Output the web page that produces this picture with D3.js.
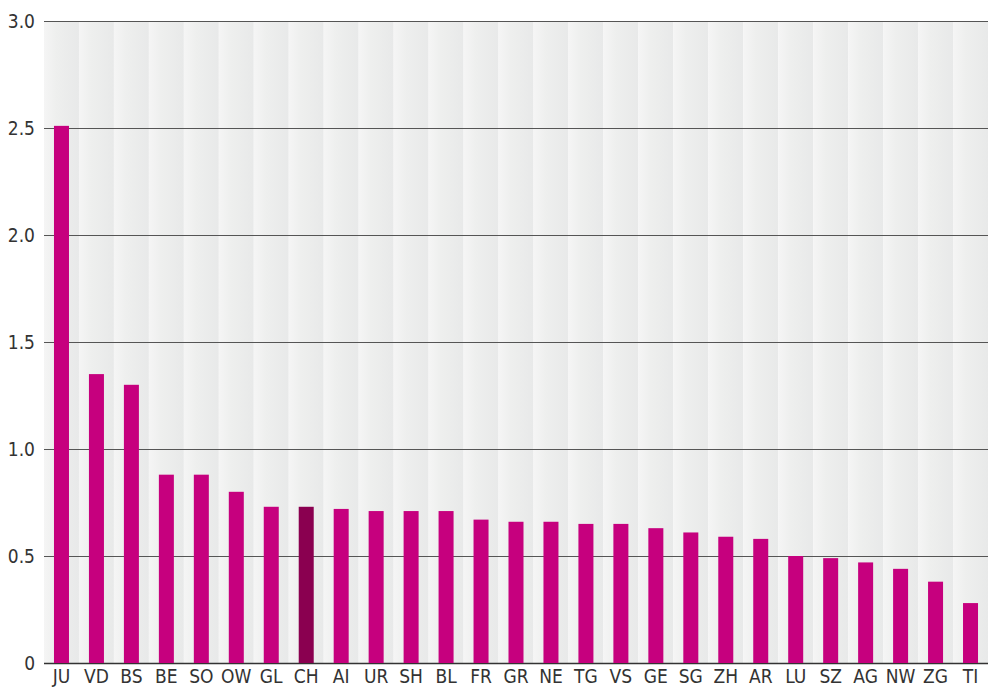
<!DOCTYPE html>
<html><head><meta charset="utf-8">
<script src="https://cdn.jsdelivr.net/npm/d3@7"></script>
<style>body{margin:0;background:#fff}svg{display:block}</style>
</head><body>
<svg id="chart" width="988" height="690"></svg>
<script>
const categories = ["JU","VD","BS","BE","SO","OW","GL","CH","AI","UR","SH","BL","FR","GR","NE","TG","VS","GE","SG","ZH","AR","LU","SZ","AG","NW","ZG","TI"];
const values = [2.51,1.35,1.30,0.88,0.88,0.80,0.73,0.73,0.72,0.71,0.71,0.71,0.67,0.66,0.66,0.65,0.65,0.63,0.61,0.59,0.58,0.50,0.49,0.47,0.44,0.38,0.28];
const highlight = ["CH"];
const yTicks = [0,0.5,1.0,1.5,2.0,2.5,3.0];

const svg = d3.select("#chart");
const m = {left:44, right:0, top:21, bottom:27};
const W = 988, H = 690;
const FONT = "'DejaVu Sans Condensed', 'DejaVu Sans', sans-serif";
const x = d3.scaleBand().domain(categories).range([m.left, W - m.right]).paddingInner(0).paddingOuter(0);
const y = d3.scaleLinear().domain([0,3]).range([H - m.bottom, m.top]);

const defs = svg.append("defs");
const g = defs.append("linearGradient").attr("id","band").attr("x1","0").attr("x2","1").attr("y1","0").attr("y2","0");
g.append("stop").attr("offset","0").attr("stop-color","#f5f5f5");
g.append("stop").attr("offset","0.35").attr("stop-color","#eeefee");
g.append("stop").attr("offset","1").attr("stop-color","#e8e9e9");

svg.append("g").selectAll("rect").data(categories).join("rect")
  .attr("x", d => x(d)).attr("width", x.bandwidth())
  .attr("y", y(3)).attr("height", y(0) - y(3))
  .attr("fill", "url(#band)");

svg.append("g").selectAll("line").data(yTicks).join("line")
  .attr("x1", m.left).attr("x2", W - m.right)
  .attr("y1", d => Math.round(y(d)) + 0.5).attr("y2", d => Math.round(y(d)) + 0.5)
  .attr("stroke", d => d === 0 ? "#333" : "#555").attr("stroke-width", d => d === 0 ? 1.5 : 1);

const bw = 15;
svg.append("g").selectAll("rect").data(categories).join("rect")
  .attr("x", d => x(d) + (x.bandwidth() - bw) / 2).attr("width", bw)
  .attr("y", (d,i) => y(values[i])).attr("height", (d,i) => y(0) - y(values[i]))
  .attr("fill", d => highlight.includes(d) ? "#8a0050" : "#c6007e");

const yAxis = d3.axisLeft(y).tickValues(yTicks).tickSize(0).tickPadding(9)
  .tickFormat(d => d === 0 ? "0" : d3.format(".1f")(d));
const ya = svg.append("g").attr("transform", `translate(${m.left},0)`).call(yAxis);
ya.select(".domain").remove();
ya.selectAll("text").attr("font-family",FONT).attr("font-size",19).attr("fill","#333");

const xAxis = d3.axisBottom(x).tickSize(0).tickPadding(7);
const xa = svg.append("g").attr("transform", `translate(0,${y(0)})`).call(xAxis);
xa.select(".domain").remove();
xa.selectAll("text").attr("font-family",FONT).attr("font-size",19).attr("fill","#333");
</script>
</body></html>
